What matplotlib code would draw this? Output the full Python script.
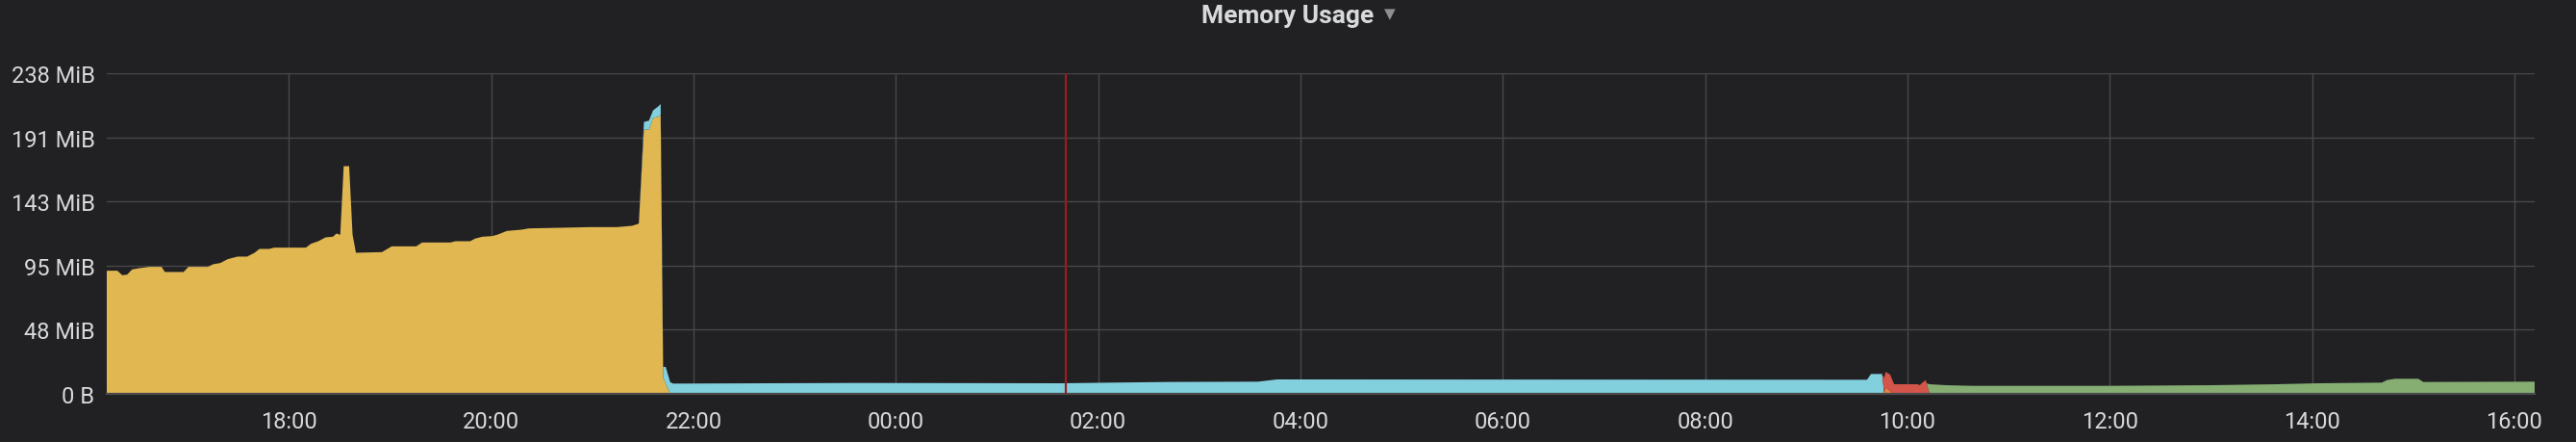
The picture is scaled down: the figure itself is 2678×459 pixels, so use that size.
import numpy as np
import pandas as pd
import matplotlib
matplotlib.use('Agg')
from matplotlib import pyplot as plt
import matplotlib.dates as mdates
from matplotlib.ticker import FuncFormatter

plt.rcParams['font.family'] = ['Roboto', 'DejaVu Sans']

# time = hours since midnight of the first day, values in MB (1e6 bytes)
yellow_h = [16.20, 16.305, 16.353, 16.402, 16.45, 16.523, 16.62, 16.741, 16.775, 16.959,
            17.007, 17.201, 17.249, 17.322, 17.395, 17.492, 17.588, 17.661, 17.709, 17.806,
            17.855, 18.169, 18.218, 18.291, 18.363, 18.436, 18.47, 18.508, 18.542, 18.596,
            18.63, 18.663, 18.92, 19.017, 19.259, 19.317, 19.598, 19.646, 19.792, 19.84,
            19.913, 20.01, 20.058, 20.155, 20.30, 20.373, 20.688, 20.978, 21.245, 21.39,
            21.453, 21.46, 21.51, 21.56, 21.60, 21.65, 21.675, 21.70, 21.77]
yellow_mb = [96, 96, 92.5, 93, 97, 98, 99, 99, 95, 95,
             99, 99, 101, 102, 105, 107, 107, 110, 113, 113,
             114, 114, 117, 119, 122, 122.5, 125, 124, 177.5, 177.5,
             124, 110, 110.5, 115, 115, 118, 118, 119, 119, 121,
             122.5, 123, 124, 127, 128, 129, 129.5, 130, 130, 131,
             132.5, 133, 206, 206, 215, 216, 217.5, 12.6, 0]

cyan_h = [21.455, 21.51, 21.56, 21.60, 21.65, 21.675, 21.70, 21.725, 21.77, 21.80,
          23.62, 25.62, 26.66, 27.58, 27.77, 33.21, 33.60, 33.64, 33.75, 33.77]
cyan_mb = [0, 6, 7, 6, 8, 8.5, 8.4, 13, 9, 8,
           8.5, 8.25, 9.25, 9.5, 11.25, 11, 11, 15.5, 15.5, 0]

orange_h = [33.765, 33.785, 33.86]
orange_mb = [0, 5, 0]

red_h = [33.745, 33.755, 33.765, 33.78, 33.83, 33.87, 34.10, 34.12, 34.18, 34.22]
red_mb = [0, 2, 10, 12, 13, 7.5, 7.5, 6.8, 10.8, 0]

green_h = [34.19, 34.22, 34.38, 34.64, 36.0, 37.01, 37.65, 38.06, 38.69, 38.74,
           38.82, 39.05, 39.10, 40.20]
green_mb = [0, 7.5, 6.75, 6.25, 6.25, 6.75, 7.5, 8.25, 8.75, 10.75,
            11.75, 11.75, 9.25, 9.5]

annotation_h = 25.68  # red marker, 01:41
x_start_h, x_end_h = 16.20, 40.20

day0 = pd.Timestamp('2019-03-11')


def to_series(hours, mb):
    idx = day0 + pd.to_timedelta(np.array(hours), unit='h')
    return pd.Series(np.array(mb, dtype=float) * 1e6, index=idx)


names = ['yellow', 'cyan', 'orange', 'red', 'green']
colors = ['#e1b752', '#82cfde', '#e8843f', '#d4554a', '#86ae73']
df = pd.concat({
    'yellow': to_series(yellow_h, yellow_mb),
    'cyan': to_series(cyan_h, cyan_mb),
    'orange': to_series(orange_h, orange_mb),
    'red': to_series(red_h, red_mb),
    'green': to_series(green_h, green_mb),
}, axis=1).sort_index()
# stacking needs every series on the same time base
df = df.interpolate(method='time', limit_area='inside').fillna(0)

bg = '#212124'
txt = '#d8d9da'
W, H = 2678, 460
fig = plt.figure(figsize=(W / 100, H / 100), dpi=100, facecolor=bg)
ax = fig.add_axes([111 / W, 50 / H, (2635 - 111) / W, (410 - 77) / H])
ax.set_facecolor(bg)

ax.stackplot(df.index, *[df[n].values for n in names], colors=colors, linewidth=0)
ax.axvline(day0 + pd.Timedelta(hours=annotation_h), color='#9b1c1c', lw=1.6, zorder=5)

ax.set_xlim(day0 + pd.Timedelta(hours=x_start_h), day0 + pd.Timedelta(hours=x_end_h))
ax.set_ylim(0, 250e6)
ax.set_yticks(np.arange(0, 251e6, 50e6))
ax.yaxis.set_major_formatter(FuncFormatter(
    lambda v, p: '0 B' if v == 0 else '%d MiB' % round(v / 2 ** 20)))
ax.xaxis.set_major_locator(mdates.HourLocator(byhour=range(0, 24, 2)))
ax.xaxis.set_major_formatter(mdates.DateFormatter('%H:%M'))

ax.set_axisbelow(True)
ax.grid(color='#48484b', lw=1)
for s in ['top', 'right', 'left']:
    ax.spines[s].set_visible(False)
ax.spines['bottom'].set_color('#4a4a4d')
ax.spines['bottom'].set_linewidth(1.6)
ax.tick_params(length=0, colors=txt, labelsize=17)
ax.tick_params(axis='x', pad=12)
ax.tick_params(axis='y', pad=9)

fig.text(0.5, 1 - 24 / H, 'Memory Usage', ha='center', va='baseline',
         fontsize=19, fontweight='bold', color=txt)
fig.text(1445 / W, 1 - 15 / H, '\u25bc', ha='center', va='center',
         fontsize=11, color='#8e8e90', family=['DejaVu Sans'])

fig.savefig('out.png', dpi=100, facecolor=bg)
